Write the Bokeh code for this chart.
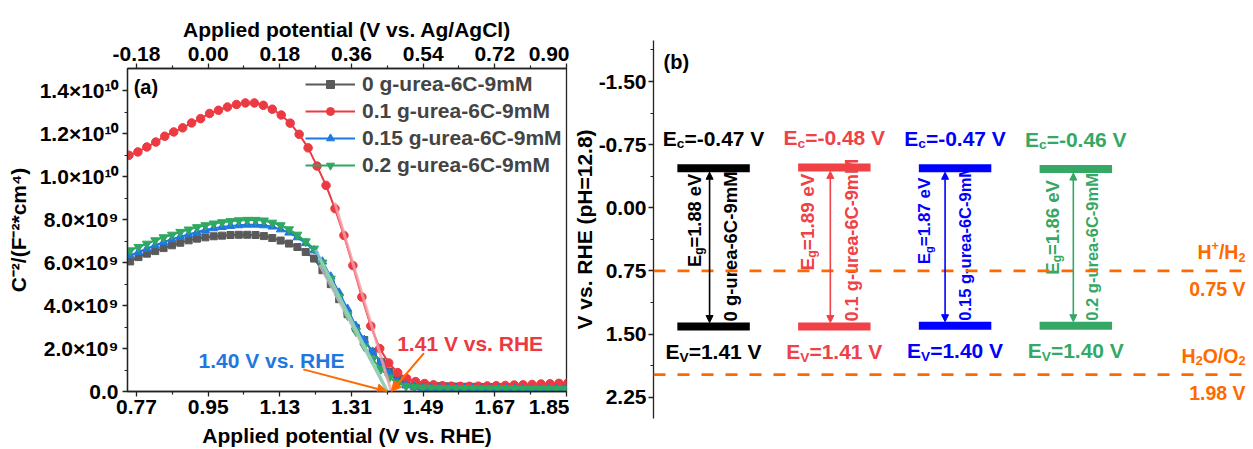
import math
from jinja2 import Template
from bokeh.plotting import figure
from bokeh.models import (Range1d, LinearAxis, FixedTicker, NumeralTickFormatter,
                          Span, Arrow, NormalHead, ColumnDataSource, Legend, LegendItem)
from bokeh.embed import file_html
from bokeh.resources import INLINE
from bokeh.core.properties import value

FONT = "Liberation Sans"

# ---------------- panel (a): Mott-Schottky data (C^-2 in units of 1e9 F^-2 cm^4) ----------------
series_names = ["0 g-urea-6C-9mM", "0.1 g-urea-6C-9mM", "0.15 g-urea-6C-9mM", "0.2 g-urea-6C-9mM"]

x_scan = [0.754, 0.775, 0.796, 0.817, 0.838, 0.859, 0.880, 0.901, 0.922, 0.943,
          0.964, 0.985, 1.006, 1.027, 1.048, 1.069, 1.090, 1.111, 1.132, 1.153,
          1.174, 1.195, 1.216, 1.237, 1.258, 1.279, 1.300, 1.321, 1.342, 1.363,
          1.384, 1.405, 1.426, 1.447, 1.468, 1.489, 1.510, 1.531, 1.552, 1.573,
          1.594, 1.615, 1.636, 1.657, 1.678, 1.699, 1.720, 1.741, 1.762, 1.783,
          1.804, 1.825, 1.846]
c2_gray = [6.06, 6.26, 6.42, 6.54, 6.68, 6.81, 6.93, 7.04, 7.12, 7.18,
           7.23, 7.26, 7.29, 7.30, 7.30, 7.29, 7.24, 7.15, 7.03, 6.89,
           6.73, 6.50, 6.19, 5.65, 5.00, 4.30, 3.60, 2.95, 2.40, 1.85,
           1.38, 0.93, 0.60, 0.40, 0.32, 0.28, 0.26, 0.25, 0.24, 0.23,
           0.22, 0.22, 0.21, 0.21, 0.20, 0.20, 0.20, 0.19, 0.19, 0.19,
           0.18, 0.18, 0.18]
c2_blue = [6.34, 6.50, 6.65, 6.81, 6.96, 7.09, 7.21, 7.32, 7.43, 7.52,
           7.60, 7.66, 7.71, 7.74, 7.77, 7.77, 7.74, 7.68, 7.55, 7.40,
           7.18, 6.91, 6.57, 6.05, 5.35, 4.60, 3.85, 3.05, 2.40, 1.85,
           1.35, 0.85, 0.45, 0.28, 0.20, 0.17, 0.15, 0.14, 0.14, 0.13,
           0.13, 0.12, 0.12, 0.12, 0.12, 0.11, 0.11, 0.11, 0.11, 0.11,
           0.10, 0.10, 0.10]
c2_green = [6.57, 6.73, 6.88, 7.04, 7.18, 7.30, 7.43, 7.54, 7.65, 7.74,
            7.82, 7.88, 7.93, 7.97, 7.99, 7.99, 7.96, 7.86, 7.74, 7.55,
            7.30, 6.99, 6.65, 6.00, 5.25, 4.40, 3.55, 2.80, 2.10, 1.50,
            1.05, 0.65, 0.38, 0.25, 0.20, 0.18, 0.17, 0.16, 0.16, 0.15,
            0.15, 0.15, 0.14, 0.14, 0.14, 0.14, 0.14, 0.13, 0.13, 0.13,
            0.13, 0.13, 0.13]
x_red = [0.751, 0.7735, 0.796, 0.8185, 0.841, 0.8635, 0.886, 0.9085, 0.931, 0.9535,
         0.976, 0.9985, 1.021, 1.0435, 1.066, 1.0885, 1.111, 1.1335, 1.156, 1.1785,
         1.201, 1.2235, 1.246, 1.2685, 1.291, 1.3135, 1.336, 1.3585, 1.381, 1.4035,
         1.426, 1.4485, 1.471, 1.4935, 1.516, 1.5385, 1.561, 1.5835, 1.606, 1.6285,
         1.651, 1.6735, 1.696, 1.7185, 1.741, 1.7635, 1.786, 1.8085, 1.831, 1.8535]
c2_red = [11.00, 11.16, 11.39, 11.62, 11.89, 12.09, 12.28, 12.51, 12.71, 12.95,
          13.10, 13.25, 13.37, 13.44, 13.44, 13.33, 13.15, 12.88, 12.50, 11.98,
          11.35, 10.50, 9.60, 8.52, 7.27, 5.87, 4.40, 3.05, 2.00, 1.33,
          0.88, 0.60, 0.46, 0.37, 0.31, 0.27, 0.25, 0.24, 0.24, 0.25,
          0.26, 0.27, 0.28, 0.30, 0.31, 0.33, 0.35, 0.36, 0.38, 0.40]

# linear (Mott-Schottky) fits: upper end point and x-intercept (flat-band potential)
fit_upper_x = [1.23, 1.268, 1.22, 1.23]
fit_upper_c2 = [5.9, 8.8, 6.6, 6.2]
flatband = [1.40, 1.41, 1.40, 1.40]

x_ticks_rhe = [0.77, 0.95, 1.13, 1.31, 1.49, 1.67, 1.85]
x_ticks_agcl = [-0.18, 0.00, 0.18, 0.36, 0.54, 0.72, 0.90]
agcl_offset = 0.95
y_ticks = [0, 2, 4, 6, 8, 10, 12, 14]
y_tick_labels = ["0.0", "2.0×10⁹", "4.0×10⁹", "6.0×10⁹", "8.0×10⁹",
                 "1.0×10¹⁰", "1.2×10¹⁰", "1.4×10¹⁰"]

# ---------------- panel (b): band positions (V vs. RHE) ----------------
Ec = [-0.47, -0.48, -0.47, -0.46]
Ev = [1.41, 1.41, 1.40, 1.40]
Eg = [1.88, 1.89, 1.87, 1.86]
redox_levels = [0.75, 1.98]
redox_parts = [[("H", "n"), ("+", "sup"), ("/H", "n"), ("2", "sub")],
               [("H", "n"), ("2", "sub"), ("O/O", "n"), ("2", "sub")]]
b_ticks = [-1.50, -0.75, 0.00, 0.75, 1.50, 2.25]

# ---------------- styles ----------------
A_COLORS = ["#5A5A5A", "#EC3A43", "#1F78E0", "#2EA862"]
A_FIT = ["#BDBDBD", "#F3A2AA", "#8CC0F0", "#8FD6A8"]
A_MARK = ["square", "circle", "triangle", "inverted_triangle"]
A_MSIZE = [7, 8.5, 8.5, 9]
B_COLORS = ["#000000", "#EF4146", "#0000FF", "#35A865"]
ORANGE = "#FF6A00"
AXC = "#222222"
FS = "21px"

W = {' ': 278, '+': 584, '-': 333, '.': 278, '/': 278, '=': 584, '(': 333, ')': 333,
     'E': 667, 'V': 667, 'H': 722, 'O': 778, 'M': 833, 'C': 722,
     'c': 556, 'e': 556, 'g': 611, 'v': 556, 'u': 611, 'r': 389, 'a': 556, 'm': 889}


def tw(s, size):
    return sum(W.get(ch, 556) for ch in s) * size / 1000.0


def style_axis(ax, lab_standoff=3, title_standoff=3):
    ax.axis_line_color = AXC
    ax.axis_line_width = 1.3
    ax.major_tick_line_color = AXC
    ax.major_tick_line_width = 1.3
    ax.major_tick_out = 5
    ax.major_tick_in = 0
    ax.minor_tick_line_color = AXC
    ax.minor_tick_line_width = 1.2
    ax.minor_tick_out = 3
    ax.minor_tick_in = 0
    ax.major_label_text_font = FONT
    ax.major_label_text_font_style = "bold"
    ax.major_label_text_font_size = FS
    ax.major_label_text_color = "black"
    ax.axis_label_text_font = FONT
    ax.axis_label_text_font_style = "bold"
    ax.axis_label_text_font_size = FS
    ax.axis_label_text_color = "black"
    ax.major_label_standoff = lab_standoff
    ax.axis_label_standoff = title_standoff


def mids(t):
    return [(a + b) / 2 for a, b in zip(t, t[1:])]


# ======================= panel (a) =======================
X0, X1 = 0.7474, 1.85
P1W = 569
p1 = figure(width=P1W, height=449, x_range=Range1d(X0, X1), y_range=Range1d(0, 15.045),
            output_backend="svg", toolbar_location=None,
            min_border_left=127, min_border_right=3, min_border_top=68, min_border_bottom=58)
p1.grid.visible = False
p1.outline_line_color = AXC
p1.outline_line_width = 1.3

xa = p1.xaxis[0]
xa.ticker = FixedTicker(ticks=x_ticks_rhe, minor_ticks=mids(x_ticks_rhe))
xa.formatter = NumeralTickFormatter(format="0.00")
xa.axis_label = "Applied potential (V vs. RHE)"
style_axis(xa, 3, 7)

ya = p1.yaxis[0]
ya.ticker = FixedTicker(ticks=y_ticks, minor_ticks=[t + 1 for t in y_ticks[:-1]])
ya.major_label_overrides = {t: lab for t, lab in zip(y_ticks, y_tick_labels)}
ya.axis_label = "C⁻²/(F⁻²*cm⁴)"
style_axis(ya, 4, 7)

p1.extra_x_ranges = {"agcl": Range1d(X0 - agcl_offset, X1 - agcl_offset)}
top = LinearAxis(x_range_name="agcl", axis_label="Applied potential (V vs. Ag/AgCl)")
top.ticker = FixedTicker(ticks=x_ticks_agcl, minor_ticks=mids(x_ticks_agcl))
top.formatter = NumeralTickFormatter(format="0.00")
style_axis(top, 3, 3)
p1.add_layout(top, "above")

xs_all = [x_scan, x_red, x_scan, x_scan]
ys_all = [c2_gray, c2_red, c2_blue, c2_green]
items = []
for i in range(4):
    lr = p1.line(xs_all[i], ys_all[i], line_color=A_COLORS[i], line_width=2)
    sr = p1.scatter(xs_all[i], ys_all[i], marker=A_MARK[i], size=A_MSIZE[i],
                    fill_color=A_COLORS[i], line_color=A_COLORS[i])
    items.append(LegendItem(label=series_names[i], renderers=[lr, sr]))

for i in [0, 2, 3, 1]:
    p1.line([fit_upper_x[i], flatband[i]], [fit_upper_c2[i], 0], line_color=A_FIT[i],
            line_width=3, line_alpha=0.8)

legend = Legend(items=items, location=(178, 214), label_text_font=FONT,
                label_text_font_style="bold", label_text_font_size=FS,
                glyph_width=50, glyph_height=20, label_height=20, label_standoff=7, spacing=3,
                padding=0, margin=0, border_line_alpha=0, background_fill_alpha=0)
p1.add_layout(legend)

# flat-band annotations
p1.text(x=[1.109], y=[1.445], text=[f"{flatband[2]:.2f} V vs. RHE"],
        text_color=A_COLORS[2], text_font=value(FONT), text_font_style="bold",
        text_font_size=FS, text_align="center", text_baseline="middle")
p1.text(x=[1.608], y=[2.22], text=[f"{flatband[1]:.2f} V vs. RHE"],
        text_color=A_COLORS[1], text_font=value(FONT), text_font_style="bold",
        text_font_size=FS, text_align="center", text_baseline="middle")
p1.add_layout(Arrow(end=NormalHead(size=10, fill_color=ORANGE, line_color=ORANGE),
                    x_start=1.189, y_start=1.03, x_end=flatband[2], y_end=0.0,
                    line_color=ORANGE, line_width=2))
p1.add_layout(Arrow(end=NormalHead(size=10, fill_color=ORANGE, line_color=ORANGE),
                    x_start=1.492, y_start=1.79, x_end=flatband[1], y_end=0.0,
                    line_color=ORANGE, line_width=2))
p1.text(x=[0.763], y=[14.17], text=["(a)"], text_color="black", text_font=value(FONT),
        text_font_style="bold", text_font_size="20px", text_align="left", text_baseline="middle")

# ======================= panel (b) =======================
BX0, BX1 = 0.5025, 5.43
BY_BOT, BY_TOP = 2.502, -1.987
P2W, P2H, P2L, P2R, P2T, P2B = 1253 - P1W, 449, 84, 5, 40, 31
p2 = figure(width=P2W, height=P2H, x_range=Range1d(BX0, BX1), y_range=Range1d(BY_BOT, BY_TOP),
            x_axis_location=None, output_backend="svg", toolbar_location=None,
            min_border_left=P2L, min_border_right=P2R, min_border_top=P2T, min_border_bottom=P2B)
p2.grid.visible = False
p2.outline_line_color = None
yb = p2.yaxis[0]
yb.ticker = FixedTicker(ticks=b_ticks,
                        minor_ticks=[b_ticks[0] - 0.375] + mids(b_ticks) + [b_ticks[-1] - 0.375])
yb.formatter = NumeralTickFormatter(format="0.00")
yb.axis_label = "V vs. RHE (pH=12.8)"
style_axis(yb, 2, 0)

px_x = (P2W - P2L - P2R) / (BX1 - BX0)
px_y = (P2H - P2T - P2B) / (BY_BOT - BY_TOP)

for lvl in redox_levels:
    p2.add_layout(Span(location=lvl, dimension="width", line_color=ORANGE,
                       line_width=2.7, line_dash="12 12"))

pos = [1, 2, 3, 4]
bar_h = 8
p2.rect(x=pos + pos, y=Ec + Ev, width=0.6, height=bar_h, height_units="screen",
        fill_color=B_COLORS + B_COLORS, line_color=None)

arrow_dx = [-4, -4, -10, -2.5]
for i in range(4):
    c = B_COLORS[i]
    ax_ = pos[i] + arrow_dx[i] / px_x
    off = (bar_h / 2) / px_y
    p2.add_layout(Arrow(start=NormalHead(size=7, fill_color=c, line_color=c),
                        end=NormalHead(size=7, fill_color=c, line_color=c),
                        x_start=ax_, y_start=Ec[i] + off, x_end=ax_, y_end=Ev[i] - off,
                        line_color=c, line_width=1.6))

T = dict(x=[], y=[], text=[], xo=[], yo=[], size=[], color=[], angle=[])


def compose(x, y, parts, size, color, rotated=False, align="center", dx=0.0, dy=0.0):
    small = size * 0.65
    total = sum(tw(t, small if k != "n" else size) for t, k in parts)
    a = {"center": -total / 2, "right": -total, "left": 0.0}[align]
    for t, k in parts:
        s = size if k == "n" else small
        d = {"n": 0.0, "sub": 0.27 * size, "sup": -0.33 * size}[k]
        if rotated:
            xo, yo, ang = dx + d, dy - a, math.pi / 2
        else:
            xo, yo, ang = dx + a, dy + d, 0.0
        T["x"].append(x); T["y"].append(y); T["text"].append(t)
        T["xo"].append(xo); T["yo"].append(yo); T["size"].append(f"{s:.1f}px")
        T["color"].append(color); T["angle"].append(ang)
        a += tw(t, s)


eg_dx = [-19.5, -27, -31, -23.5]
eg_dy = [-27, -25, -26, -20]
eg_size = [18.3, 19, 17, 18.6]
nm_dx = [16.5, 18, 10, 16.5]
nm_size = [18.5, 18.2, 16.5, 16.5]
for i in range(4):
    c = B_COLORS[i]
    compose(pos[i], Ec[i], [("E", "n"), ("c", "sub"), (f"={Ec[i]:.2f} V", "n")], 21, c, dy=-30)
    compose(pos[i], Ev[i], [("E", "n"), ("V", "sub"), (f"={Ev[i]:.2f} V", "n")], 21, c, dy=25)
    compose(pos[i], (Ec[i] + Ev[i]) / 2, [("E", "n"), ("g", "sub"), (f"={Eg[i]:.2f} eV", "n")],
            eg_size[i], c, rotated=True, dx=eg_dx[i], dy=eg_dy[i])
    compose(pos[i], Ev[i], [(series_names[i], "n")], nm_size[i], c, rotated=True,
            align="left", dx=nm_dx[i], dy=-5)

lab_x = BX1 - 3 / px_x
for lvl, parts in zip(redox_levels, redox_parts):
    compose(lab_x, lvl, parts, 19.5, ORANGE, align="right", dy=-19)
    compose(lab_x, lvl, [(f"{lvl:.2f} V", "n")], 19.5, ORANGE, align="right", dy=18)

compose(BX0 + 10 / px_x, BY_TOP + 21.7 / px_y, [("(b)", "n")], 20, "black", align="left")

src = ColumnDataSource(T)
p2.text(x="x", y="y", text="text", x_offset="xo", y_offset="yo", text_font_size="size",
        text_color="color", angle="angle", text_align="left", text_baseline="middle",
        text_font=value(FONT), text_font_style="bold", source=src)

# the two panels are separate roots placed side by side (no frame alignment between them)
page = Template("""{% extends base %}
{% block postamble %}<style>body { display: flex !important; flex-direction: row; align-items: flex-start; margin: 0; }</style>{% endblock %}""")
open("out.html", "w").write(file_html([p1, p2], INLINE, template=page))
